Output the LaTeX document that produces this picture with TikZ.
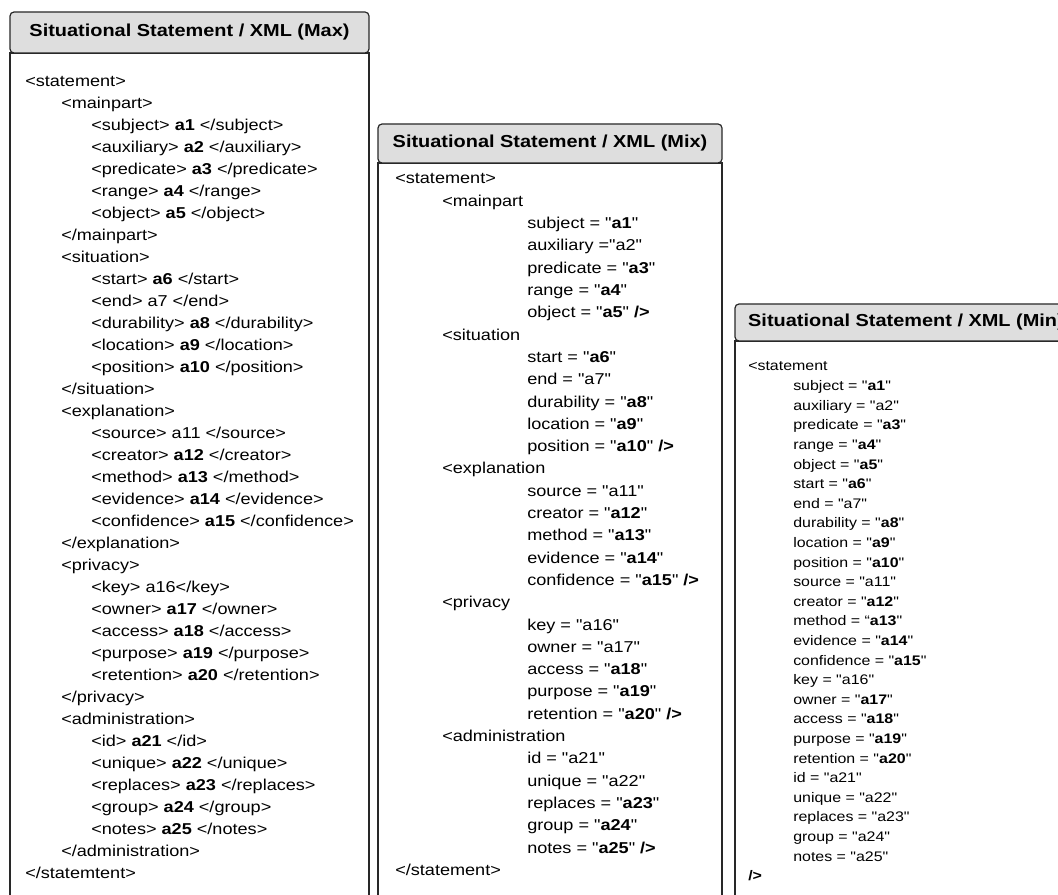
\documentclass[tikz,border=0pt]{standalone}
\usepackage{fontspec}
\setmainfont{Liberation Sans}[FakeStretch=1.15, Ligatures=TeXOff]
\usetikzlibrary{backgrounds, positioning}

\definecolor{headgray}{RGB}{222,222,222}
\definecolor{framegray}{RGB}{40,40,40}

\newdimen\px
\px=0.75pt

\tikzset{
  panel head/.style={draw=framegray, fill=headgray, line width=0.9pt, rounded corners=3pt,
        inner sep=0pt, outer sep=0pt, anchor=north west,
        font=\bfseries\fontsize{13pt}{15pt}\selectfont},
  panel body/.style={draw=framegray, fill=white, line width=1pt},
  code line/.style={anchor=base west, inner sep=0pt, font=\fontsize{11.8pt}{14pt}\selectfont},
  small line/.style={code line, font=\fontsize{10.4pt}{12pt}\selectfont}
}

\begin{document}
\begin{tikzpicture}[x=0.75pt, y=-0.75pt]

%Canvas
    \useasboundingbox (0,0) rectangle (1058,895);
    \clip (0,0) rectangle (1058,895);
    \coordinate (bottom) at (0,910);

%Headers
    \node[panel head, minimum width=359\px, minimum height=41\px] (maxHead) at (10,12) {Situational Statement / XML (Max)};
    \node[panel head, minimum width=344\px, minimum height=39\px] (mixHead) at (378,124) {Situational Statement / XML (Mix)};
    \node[panel head, minimum width=342\px, minimum height=37\px] (minHead) at (735,304) {Situational Statement / XML (Min)};

%Bodies
    \begin{scope}[on background layer]
        \draw[panel body] (maxHead.south west) rectangle (maxHead.south east |- bottom);
        \draw[panel body] (mixHead.south west) rectangle (mixHead.south east |- bottom);
        \draw[panel body] (minHead.south west) rectangle (minHead.south east |- bottom);
    \end{scope}

%Max: nested elements
    \foreach \xpos/\txt [count=\i from 0] in {
        25/{<statement>},
        61/{<mainpart>},
        91/{<subject> \textbf{a1} </subject>},
        91/{<auxiliary> \textbf{a2} </auxiliary>},
        91/{<predicate> \textbf{a3} </predicate>},
        91/{<range> \textbf{a4} </range>},
        91/{<object> \textbf{a5} </object>},
        61/{</mainpart>},
        61/{<situation>},
        91/{<start> \textbf{a6} </start>},
        91/{<end> a7 </end>},
        91/{<durability> \textbf{a8} </durability>},
        91/{<location> \textbf{a9} </location>},
        91/{<position> \textbf{a10} </position>},
        61/{</situation>},
        61/{<explanation>},
        91/{<source> a11 </source>},
        91/{<creator> \textbf{a12} </creator>},
        91/{<method> \textbf{a13} </method>},
        91/{<evidence> \textbf{a14} </evidence>},
        91/{<confidence> \textbf{a15} </confidence>},
        61/{</explanation>},
        61/{<privacy>},
        91/{<key> a16</key>},
        91/{<owner> \textbf{a17} </owner>},
        91/{<access> \textbf{a18} </access>},
        91/{<purpose> \textbf{a19} </purpose>},
        91/{<retention> \textbf{a20} </retention>},
        61/{</privacy>},
        61/{<administration>},
        91/{<id> \textbf{a21} </id>},
        91/{<unique> \textbf{a22} </unique>},
        91/{<replaces> \textbf{a23} </replaces>},
        91/{<group> \textbf{a24} </group>},
        91/{<notes> \textbf{a25} </notes>},
        61/{</administration>},
        25/{</statemtent>}}
    {
        \node[code line] (max-\i) at (\xpos, {86.5+22*\i}) {\txt};
    }

%Mix: elements with attributes
    \foreach \xpos/\txt [count=\i from 0] in {
        395/{<statement>},
        442/{<mainpart},
        527/{subject = "\textbf{a1}"},
        527/{auxiliary ="a2"},
        527/{predicate = "\textbf{a3}"},
        527/{range = "\textbf{a4}"},
        527/{object = "\textbf{a5}" \textbf{/>}},
        442/{<situation},
        527/{start = "\textbf{a6}"},
        527/{end = "a7"},
        527/{durability = "\textbf{a8}"},
        527/{location = "\textbf{a9}"},
        527/{position = "\textbf{a10}" \textbf{/>}},
        442/{<explanation},
        527/{source = "a11"},
        527/{creator = "\textbf{a12}"},
        527/{method = "\textbf{a13}"},
        527/{evidence = "\textbf{a14}"},
        527/{confidence = "\textbf{a15}" \textbf{/>}},
        442/{<privacy},
        527/{key = "a16"},
        527/{owner = "a17"},
        527/{access = "\textbf{a18}"},
        527/{purpose = "\textbf{a19}"},
        527/{retention = "\textbf{a20}" \textbf{/>}},
        442/{<administration},
        527/{id = "a21"},
        527/{unique = "a22"},
        527/{replaces = "\textbf{a23}"},
        527/{group = "\textbf{a24}"},
        527/{notes = "\textbf{a25}" \textbf{/>}},
        395/{</statement>}}
    {
        \node[code line] (mix-\i) at (\xpos, {184+22.3*\i}) {\txt};
    }

%Min: one flat element
    \foreach \xpos/\txt [count=\i from 0] in {
        748/{<statement},
        793/{subject = "\textbf{a1}"},
        793/{auxiliary = "a2"},
        793/{predicate = "\textbf{a3}"},
        793/{range = "\textbf{a4}"},
        793/{object = "\textbf{a5}"},
        793/{start = "\textbf{a6}"},
        793/{end = "a7"},
        793/{durability = "\textbf{a8}"},
        793/{location = "\textbf{a9}"},
        793/{position = "\textbf{a10}"},
        793/{source = "a11"},
        793/{creator = "\textbf{a12}"},
        793/{method = “\textbf{a13}"},
        793/{evidence = "\textbf{a14}"},
        793/{confidence = "\textbf{a15}"},
        793/{key = "a16"},
        793/{owner = "\textbf{a17}"},
        793/{access = "\textbf{a18}"},
        793/{purpose = "\textbf{a19}"},
        793/{retention = "\textbf{a20}"},
        793/{id = "a21"},
        793/{unique = "a22"},
        793/{replaces = "a23"},
        793/{group = "a24"},
        793/{notes = "a25"},
        748/{\textbf{/>}}}
    {
        \node[small line] (min-\i) at (\xpos, {371+19.6*\i}) {\txt};
    }

\end{tikzpicture}
\end{document}
